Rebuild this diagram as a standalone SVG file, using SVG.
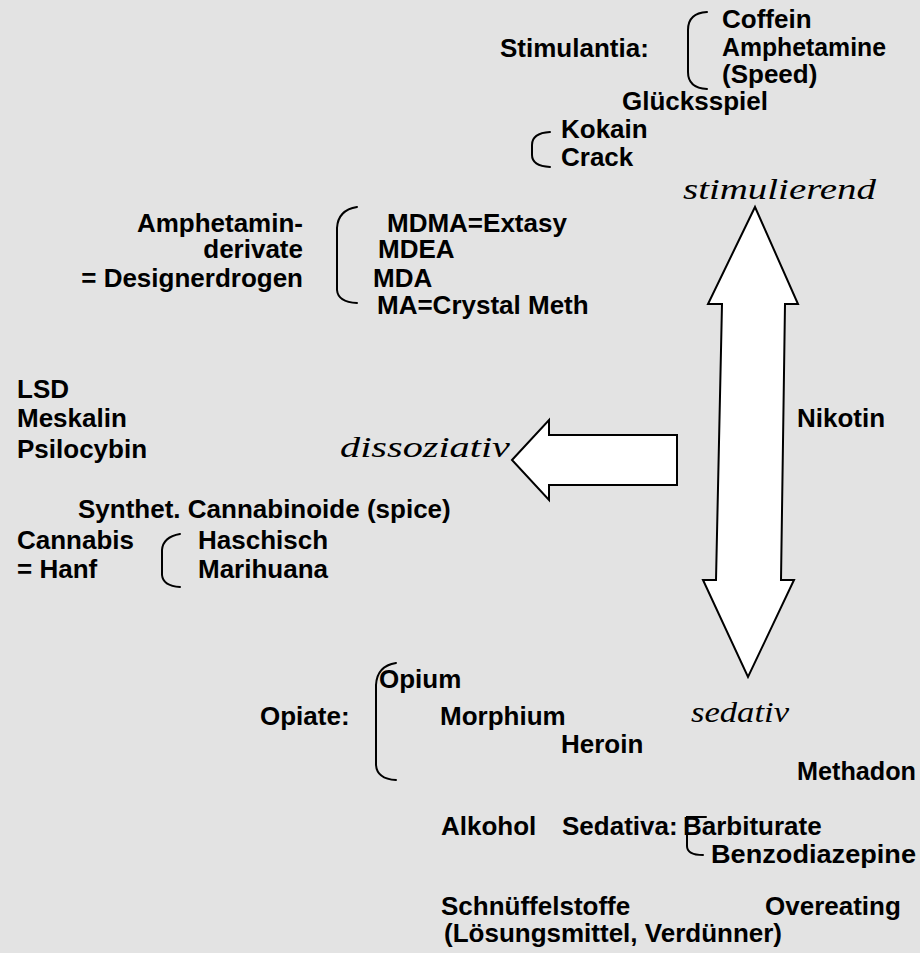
<svg xmlns="http://www.w3.org/2000/svg" width="920" height="953" viewBox="0 0 920 953">
<style>
.t{font-family:"Liberation Sans",Arial,sans-serif;font-weight:bold;font-size:26px;fill:#000}
.c{font-family:"Liberation Serif","Times New Roman",serif;font-style:italic;font-size:30px;fill:#000}
.br{fill:none;stroke:#000;stroke-width:2;stroke-linecap:round}
.ar{fill:#fff;stroke:#000;stroke-width:2;stroke-linejoin:miter}
</style>
<rect x="0" y="0" width="920" height="953" fill="#e3e3e3"/>
<g id="connectors">
<polygon class="ar" points="755,207 798,304 785,304 781,580 794,580 748,677 703,580 716,580 722,304 708,304"/>
<polygon class="ar" points="512,460 549,420 549,435 677,435 677,485 549,485 549,500"/>
</g>
<g id="brackets">
<path class="br" d="M707,12 Q688,13 688,30 L688,72 Q688,88 707,89"/>
<path class="br" d="M550,132 Q532,133 532,145 L532,155 Q532,166 550,167"/>
<path class="br" d="M357,207 Q338,210 337,228 L337,290 Q338,302 357,303"/>
<path class="br" d="M180,534 Q163,537 162,550 L162,575 Q163,586 180,587"/>
<path class="br" d="M396,663 Q377,666 376,685 L376,765 Q377,779 396,780"/>
<path class="br" d="M706,817 L687,817 L687,846 Q687,855 703,855"/>
</g>
<g id="stimulantia"><text class="t" x="500" y="57">Stimulantia:</text></g>
<g id="coffein"><text class="t" x="722" y="28">Coffein</text></g>
<g id="amphetamine"><text class="t" x="722" y="56" textLength="164" lengthAdjust="spacingAndGlyphs">Amphetamine</text></g>
<g id="speed"><text class="t" x="722" y="83">(Speed)</text></g>
<g id="gluecksspiel"><text class="t" x="622" y="110">Glücksspiel</text></g>
<g id="kokain"><text class="t" x="561" y="138">Kokain</text></g>
<g id="crack"><text class="t" x="561" y="166">Crack</text></g>
<g id="stimulierend"><text class="c" x="683" y="199" textLength="193" lengthAdjust="spacingAndGlyphs">stimulierend</text></g>
<g id="amphetaminderivate">
<text class="t" x="303" y="232" text-anchor="end">Amphetamin-</text>
<text class="t" x="303" y="258" text-anchor="end">derivate</text>
<text class="t" x="303" y="287" text-anchor="end">= Designerdrogen</text>
</g>
<g id="mdma"><text class="t" x="387" y="232">MDMA=Extasy</text></g>
<g id="mdea"><text class="t" x="378" y="258">MDEA</text></g>
<g id="mda"><text class="t" x="373" y="287">MDA</text></g>
<g id="ma"><text class="t" x="377" y="314">MA=Crystal Meth</text></g>
<g id="lsd"><text class="t" x="17" y="398">LSD</text></g>
<g id="meskalin"><text class="t" x="17" y="427">Meskalin</text></g>
<g id="psilocybin"><text class="t" x="17" y="458">Psilocybin</text></g>
<g id="dissoziativ"><text class="c" x="340" y="457" textLength="170" lengthAdjust="spacingAndGlyphs">dissoziativ</text></g>
<g id="nikotin"><text class="t" x="797" y="427">Nikotin</text></g>
<g id="synthet"><text class="t" x="78" y="518">Synthet. Cannabinoide (spice)</text></g>
<g id="cannabis">
<text class="t" x="17" y="549">Cannabis</text>
<text class="t" x="17" y="578">= Hanf</text>
</g>
<g id="haschisch"><text class="t" x="198" y="549">Haschisch</text></g>
<g id="marihuana"><text class="t" x="198" y="578">Marihuana</text></g>
<g id="opiate"><text class="t" x="260" y="725">Opiate:</text></g>
<g id="opium"><text class="t" x="379" y="688">Opium</text></g>
<g id="morphium"><text class="t" x="440" y="725">Morphium</text></g>
<g id="heroin"><text class="t" x="561" y="753">Heroin</text></g>
<g id="sedativ"><text class="c" x="691" y="722" textLength="98" lengthAdjust="spacingAndGlyphs">sedativ</text></g>
<g id="methadon"><text class="t" x="797" y="780" textLength="119" lengthAdjust="spacingAndGlyphs">Methadon</text></g>
<g id="alkohol"><text class="t" x="441" y="835">Alkohol</text></g>
<g id="sedativa"><text class="t" x="562" y="835">Sedativa:</text></g>
<g id="barbiturate"><text class="t" x="683" y="835">Barbiturate</text></g>
<g id="benzodiazepine"><text class="t" x="711" y="863" textLength="205" lengthAdjust="spacingAndGlyphs">Benzodiazepine</text></g>
<g id="schnueffelstoffe">
<text class="t" x="441" y="915">Schnüffelstoffe</text>
<text class="t" x="444" y="942">(Lösungsmittel, Verdünner)</text>
</g>
<g id="overeating"><text class="t" x="765" y="915">Overeating</text></g>
</svg>
